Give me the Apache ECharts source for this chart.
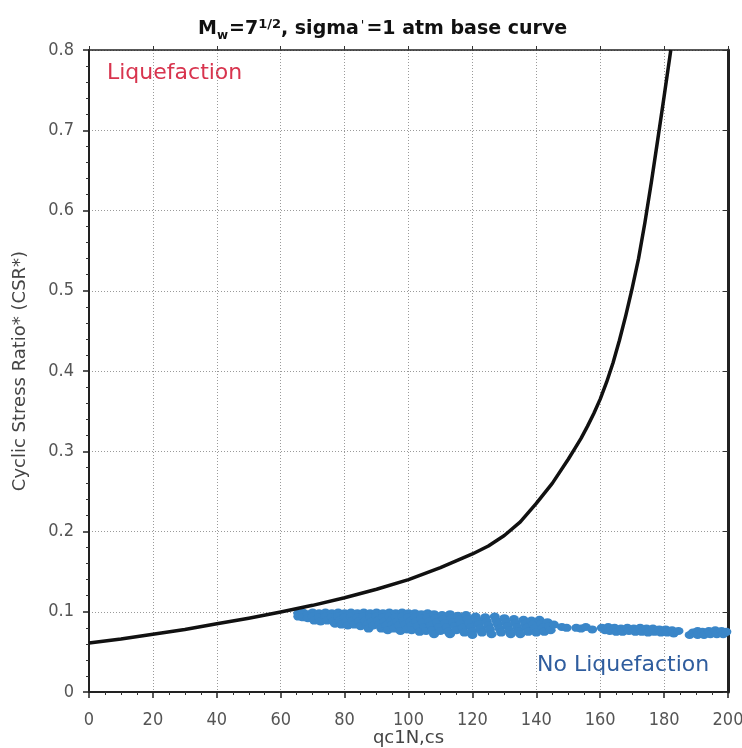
<!DOCTYPE html>
<html>
<head>
<meta charset="utf-8">
<script src="https://cdn.jsdelivr.net/npm/echarts@6/dist/echarts.min.js"></script>
<style>html,body{margin:0;padding:0;background:#fff;}#c{width:742px;height:748px;}</style>
</head>
<body>
<div id="c"></div>
<script>
// Base curve (qc1N,cs -> CSR*)
const curveQc  = [0, 10, 20, 30, 40, 50, 60, 70, 80, 90, 100, 110, 120, 125, 130, 135, 140, 145, 150, 152, 154, 156, 158, 160, 162, 164, 166, 168, 170, 172, 174, 176, 178, 180, 182.1];
const curveCsr = [0.061, 0.066, 0.072, 0.078, 0.085, 0.092, 0.0997, 0.108, 0.1175, 0.128, 0.14, 0.155, 0.172, 0.182, 0.195, 0.212, 0.235, 0.26, 0.29, 0.303, 0.316, 0.331, 0.347, 0.365, 0.386, 0.41, 0.438, 0.469, 0.503, 0.54, 0.585, 0.635, 0.688, 0.742, 0.8];

// Data points (qc1N,cs, CSR*)
const noLiqPoints = [
  [65.5,0.098],[65.5,0.094],[67,0.099],[67,0.093],[68.5,0.097],[68.5,0.092],[70,0.099],[70,0.094],[70.5,0.089],[72,0.098],[72,0.093],[72.5,0.088],[74,0.099],[74,0.094],[74.5,0.089],
  [76,0.098],[76,0.093],[76.5,0.088],[77,0.085],[78,0.099],[78,0.094],[78.5,0.089],[79,0.084],[80,0.098],[80,0.093],[80.5,0.088],[81,0.083],[82,0.099],[82,0.094],[82.5,0.089],[83,0.084],[84,0.098],[84,0.093],[84.5,0.088],[85,0.082],
  [86,0.099],[86,0.094],[86.5,0.089],[87,0.084],[87.5,0.079],[88,0.098],[88,0.093],[88.5,0.088],[89,0.083],[90,0.099],[90,0.094],[90.5,0.089],[91,0.084],[91.5,0.079],[92,0.098],[92,0.093],[92.5,0.088],[93,0.083],[93.5,0.077],[94,0.099],[94,0.094],[94.5,0.089],[95,0.084],[95.5,0.079],[96,0.098],[96,0.093],[96.5,0.088],[97,0.083],[97.5,0.076],[98,0.099],[98,0.094],[98.5,0.089],[99,0.084],[99.5,0.078],[100,0.098],[100,0.093],
  [100.5,0.088],[101,0.083],[101,0.077],[102,0.098],[102,0.093],[102.5,0.088],[103,0.082],[103.5,0.075],[104,0.097],[104,0.092],[104.5,0.087],[105,0.081],[105.5,0.076],[106,0.098],[106,0.093],[106.5,0.088],[107,0.083],[107.5,0.077],[108,0.072],[108,0.097],[108.5,0.092],[109,0.087],[109.5,0.081],[110,0.076],[110.5,0.096],[111,0.091],[111.5,0.086],[112,0.081],[112.5,0.075],[113,0.072],[113,0.097],[113.5,0.092],[114,0.087],[114.5,0.082],[115,0.077],[115.5,0.095],[116,0.09],[116.5,0.085],[117,0.08],[117.5,0.074],[118,0.096],[118.5,0.091],[119,0.086],[119.5,0.081],[120,0.076],[120,0.071],
  [121,0.094],[121.5,0.089],[122,0.084],[122.5,0.079],[123,0.074],[124,0.093],[124.5,0.088],[125,0.083],[125.5,0.078],[126,0.072],[127,0.094],[127.5,0.089],[128,0.084],[128.5,0.079],[129,0.074],[130,0.092],[130.5,0.087],[131,0.082],[131.5,0.077],[132,0.072],[133,0.091],[133.5,0.086],[134,0.081],[134.5,0.076],[135,0.072],[136,0.09],[136.5,0.085],[137,0.08],[137.5,0.075],[138.5,0.089],[139,0.084],[139.5,0.079],[140,0.074],
  [141,0.09],[141.5,0.085],[142,0.08],[142.5,0.075],[143.5,0.087],[144,0.082],[144.5,0.077],[145.5,0.084],
  [148,0.081],[149.5,0.08],[152.5,0.08],[154,0.079],[155.5,0.081],[157.5,0.078],
  [160.5,0.08],[161.5,0.077],[162.5,0.081],[163,0.076],[164.5,0.08],[165,0.075],[166.5,0.079],[167,0.075],[168.5,0.08],[169,0.076],[170.5,0.079],[171,0.075],[172.5,0.08],[173,0.075],[174.5,0.079],[175,0.074],[176.5,0.079],[177,0.075],[178.5,0.078],[179,0.074],[180.5,0.078],[181,0.074],[182.5,0.077],[183,0.073],[184.5,0.076],
  [188,0.071],[189,0.074],[190.5,0.076],[190.5,0.071],[192,0.075],[192.5,0.071],[194,0.076],[194.5,0.072],[196,0.077],[196.5,0.072],[198,0.076],[198.5,0.072],[199.5,0.075]
];

const xTicks = {min: 0, max: 200, interval: 20};
const yTicks = {min: 0, max: 0.8, interval: 0.1};

const chart = echarts.init(document.getElementById('c'), null, {renderer: 'canvas'});
const lblFont = '"Liberation Sans Narrow", "DejaVu Sans Condensed", "DejaVu Sans", sans-serif';
const nameFont = '"DejaVu Sans", sans-serif';
const gridLine = {show: true, lineStyle: {color: '#9a9a9a', type: [1, 2], width: 1}};

const option = {
  backgroundColor: '#ffffff',
  animation: false,
  title: {
    text: '{b|M}{s|w}{b|=7}{p|1/2}{b|, sigma}{q|\'}{b|=1 atm base curve}',
    left: 193, top: 7,
    textStyle: {
      rich: {
        b: {fontFamily: 'DejaVu Sans', fontWeight: 'bold', fontSize: 19, color: '#111', lineHeight: 27, verticalAlign: 'bottom'},
        s: {fontFamily: 'DejaVu Sans', fontWeight: 'bold', fontSize: 12, color: '#111', lineHeight: 27, verticalAlign: 'bottom', padding: [0, 1, -3, 0]},
        p: {fontFamily: 'DejaVu Sans', fontWeight: 'bold', fontSize: 13, color: '#111', lineHeight: 27, verticalAlign: 'bottom', padding: [0, 0, 8, 0]},
        q: {fontFamily: 'DejaVu Sans', fontWeight: 'normal', fontSize: 13, color: '#111', lineHeight: 27, verticalAlign: 'bottom', padding: [0, 2, 7, 2]}
      }
    }
  },
  grid: {left: 89, right: 14, top: 50, bottom: 56, containLabel: false, outerBoundsMode: 'none'},
  xAxis: [{
    type: 'value', min: xTicks.min, max: xTicks.max, interval: xTicks.interval,
    name: 'qc1N,cs', nameLocation: 'middle', nameGap: 37, nameMoveOverlap: false,
    nameTextStyle: {fontFamily: nameFont, fontSize: 18, color: '#444'},
    axisLine: {show: true, onZero: false, lineStyle: {color: '#222', width: 2}},
    axisTick: {show: true, inside: false, length: 6, lineStyle: {color: '#222', width: 1.5}},
    minorTick: {show: true, splitNumber: 4, length: 3, lineStyle: {color: '#333'}},
    axisLabel: {fontFamily: lblFont, fontSize: 18, color: '#555', margin: 19},
    splitLine: gridLine
  }, {
    type: 'value', position: 'top', min: xTicks.min, max: xTicks.max, interval: xTicks.interval,
    axisLine: {show: true, onZero: false, lineStyle: {color: '#222', width: 1.5}},
    axisTick: {show: true, length: 4, lineStyle: {color: '#333'}},
    minorTick: {show: false},
    axisLabel: {show: false}, splitLine: {show: false}
  }],
  yAxis: [{
    type: 'value', min: yTicks.min, max: yTicks.max, interval: yTicks.interval,
    name: 'Cyclic Stress Ratio* (CSR*)', nameLocation: 'middle', nameGap: 60, nameRotate: 90,
    nameTextStyle: {fontFamily: nameFont, fontSize: 18, color: '#444'},
    axisLine: {show: true, onZero: false, lineStyle: {color: '#222', width: 2}},
    axisTick: {show: true, inside: false, length: 6, lineStyle: {color: '#222', width: 1.5}},
    minorTick: {show: true, splitNumber: 5, length: 3, lineStyle: {color: '#333'}},
    axisLabel: {fontFamily: lblFont, fontSize: 18, color: '#555', margin: 15,
      formatter: v => (v === 0 ? '0' : v.toFixed(1))},
    splitLine: gridLine
  }, {
    type: 'value', position: 'right', min: yTicks.min, max: yTicks.max, interval: yTicks.interval,
    axisLine: {show: true, onZero: false, lineStyle: {color: '#222', width: 3}},
    axisTick: {show: true, inside: true, length: 5, lineStyle: {color: '#333'}},
    minorTick: {show: false},
    axisLabel: {show: false}, splitLine: {show: false}
  }],
  series: [{
    type: 'scatter',
    data: noLiqPoints,
    symbol: 'circle', symbolSize: [10, 8],
    itemStyle: {color: '#3a86c8', opacity: 1},
    z: 3
  }, {
    type: 'line',
    data: curveQc.map((q, i) => [q, curveCsr[i]]),
    showSymbol: false, smooth: false,
    lineStyle: {color: '#111', width: 3.5, join: 'round'},
    clip: true,
    z: 4
  }],
  graphic: [{
    type: 'text', left: 107, top: 62,
    style: {text: 'Liquefaction', font: '22px "DejaVu Sans"', fill: '#d8344e'}
  }, {
    type: 'text', left: 537, top: 654,
    style: {text: 'No Liquefaction', font: '22px "DejaVu Sans"', fill: '#2f5d9e'}
  }]
};
chart.setOption(option);
</script>
</body>
</html>
